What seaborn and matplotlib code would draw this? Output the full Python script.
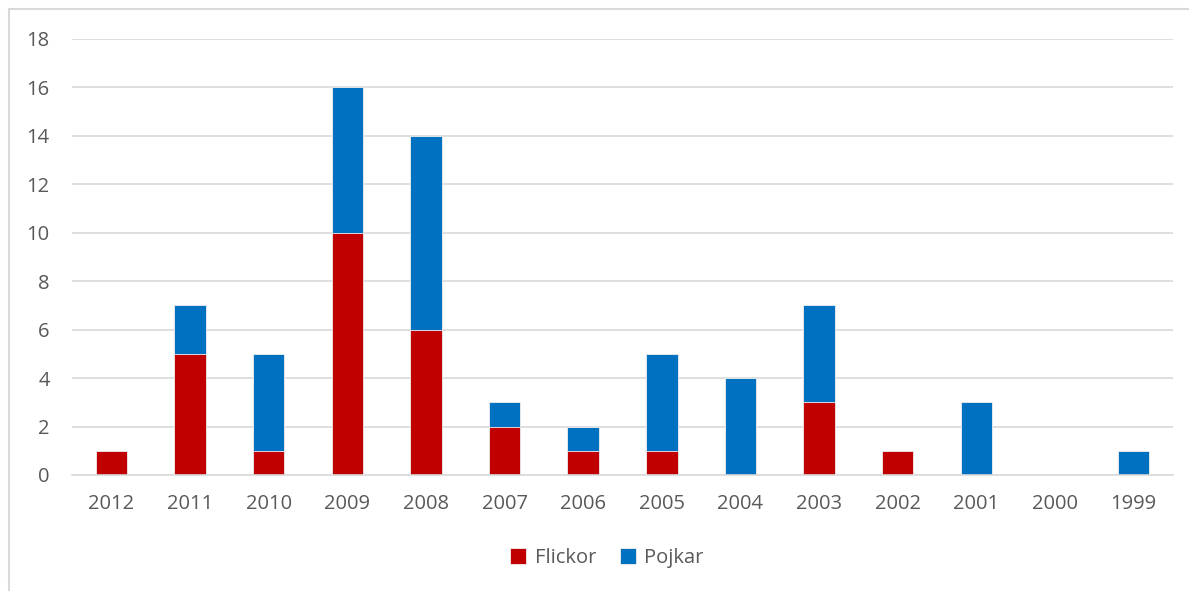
import numpy as np
import pandas as pd
import matplotlib
matplotlib.use("Agg")
import matplotlib.pyplot as plt
import seaborn as sns
from matplotlib.patches import Rectangle

years = ["2012", "2011", "2010", "2009", "2008", "2007", "2006",
         "2005", "2004", "2003", "2002", "2001", "2000", "1999"]
flickor = [1, 5, 1, 10, 6, 2, 1, 1, 0, 3, 1, 0, 0, 0]
pojkar = [0, 2, 4, 6, 8, 1, 1, 4, 4, 4, 0, 3, 0, 1]

red = "#C00000"
blue = "#0070C0"
txt = "#595959"

sns.set_style("white")
plt.rcParams["font.family"] = ["Open Sans", "DejaVu Sans"]

fig = plt.figure(figsize=(11.89, 5.91), dpi=100)
ax = fig.add_axes([72 / 1189, 1 - 475 / 591, (1173 - 72) / 1189, (475 - 39) / 591])

df = pd.DataFrame({"year": years, "Flickor": flickor, "Pojkar": pojkar})
df["total"] = df["Flickor"] + df["Pojkar"]

# stacked: draw totals first in blue, then red on top of it
sns.barplot(data=df, x="year", y="total", color=blue, width=0.4,
            saturation=1, ax=ax, label="Pojkar", linewidth=0.6,
            edgecolor="#f0f0f0")
sns.barplot(data=df, x="year", y="Flickor", color=red, width=0.4,
            saturation=1, ax=ax, label="Flickor", linewidth=0.6,
            edgecolor="#f0f0f0")
if ax.get_legend() is not None:
    ax.get_legend().remove()

ax.set_ylim(0, 18)
ax.set_yticks(range(0, 19, 2))
ax.set_xlim(-0.5, len(years) - 0.5)
ax.yaxis.grid(True, color="#D9D9D9", linewidth=1.2)
ax.set_axisbelow(True)
for s in ["top", "right", "left"]:
    ax.spines[s].set_visible(False)
ax.spines["bottom"].set_color("#D9D9D9")
ax.spines["bottom"].set_linewidth(1.2)
ax.set_xlabel("")
ax.set_ylabel("")
ax.tick_params(axis="both", length=0, labelsize=14.5, colors=txt, pad=14)
ax.tick_params(axis="y", pad=16)

handles, labels = ax.get_legend_handles_labels()
order = [labels.index("Flickor"), labels.index("Pojkar")]
leg = fig.legend([handles[i] for i in order], [labels[i] for i in order],
                 loc="center", bbox_to_anchor=(607 / 1189, 1 - 558 / 591),
                 ncol=2, frameon=False, fontsize=14.5, handlelength=0.8,
                 handleheight=0.8, handletextpad=0.4, columnspacing=1.2)
for t in leg.get_texts():
    t.set_color(txt)

fig.patches.append(Rectangle((9 / 1189, -0.1), 1.2, 1 - 9 / 591 + 0.1,
                             transform=fig.transFigure, fill=False,
                             edgecolor="#D9D9D9", linewidth=1.5))

fig.savefig("out.png", dpi=100)
